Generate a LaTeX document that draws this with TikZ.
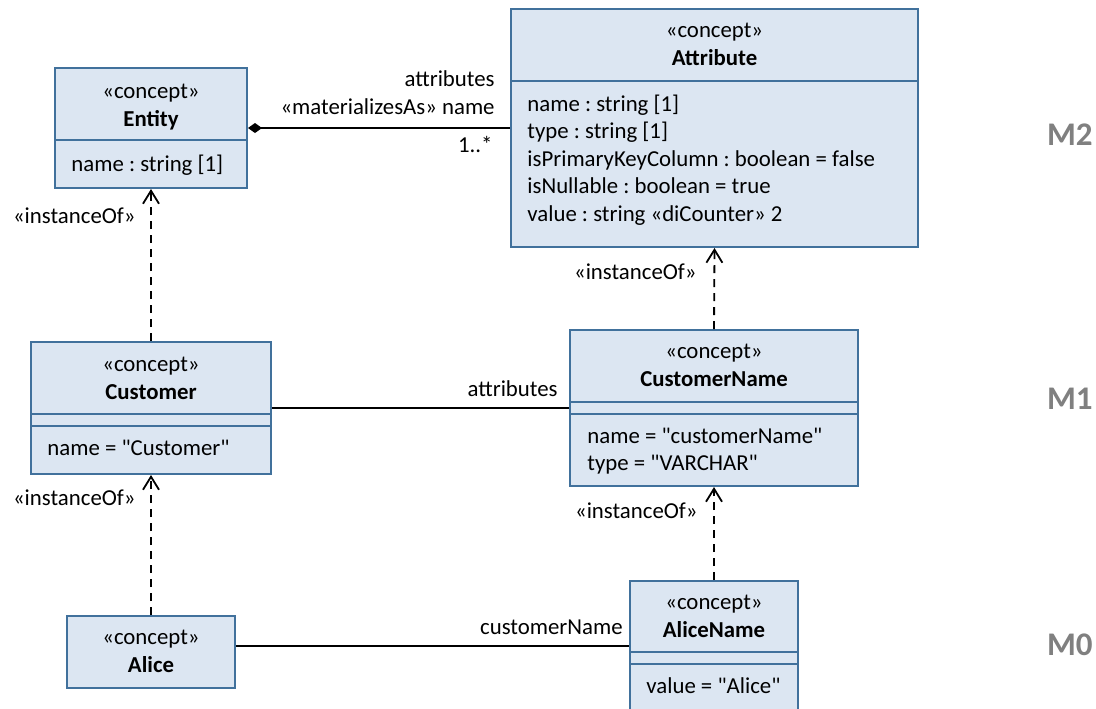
\documentclass[tikz,border=0pt]{standalone}
\usepackage{fontspec}
\setmainfont{Carlito}[Ligatures=TeXOff]
\usetikzlibrary{arrows.meta,fit}

\definecolor{boxfill}{HTML}{DCE6F2}
\definecolor{boxline}{HTML}{41719C}
\definecolor{levelgray}{HTML}{808080}

\begin{document}
\frenchspacing
\begin{tikzpicture}[x=0.5pt, y=-0.5pt,
  every node/.style={font=\fontsize{11.4}{13.9}\selectfont, inner sep=0pt},
  concept/.style={draw=boxline, fill=boxfill, line width=1pt},
  divider/.style={draw=boxline, line width=1pt},
  stereo/.style={anchor=base},
  classname/.style={anchor=base, font=\fontsize{11.4}{13.9}\selectfont\bfseries},
  member/.style={anchor=base west},
  rolelabel/.style={anchor=base east},
  assoc/.style={line width=0.9pt},
  instance/.style={line width=0.9pt, dash pattern=on 4pt off 3pt,
    -{Straight Barb[length=6.5pt,width=8pt]}},
  metalevel/.style={anchor=base east, text=levelgray,
    font=\fontsize{16.5}{20}\selectfont\bfseries}]

  \useasboundingbox (0,0) rectangle (1096,708);

  % M2
  \node [concept, fit={(55,68) (247,188)}] (entity) {};
  \draw [divider] (55,140) -- (247,140);
  \node [stereo] (entityStereo) at (151,98) {«concept»};
  \node [classname] (entityTitle) at (151,126) {Entity};
  \node [member] (entityAttr) at (71,171) {name : string [1]};

  \node [concept, fit={(511,9) (918,247)}] (attribute) {};
  \draw [divider] (511,81) -- (918,81);
  \node [stereo] (attributeStereo) at (714.5,37) {«concept»};
  \node [classname] (attributeTitle) at (714.5,65) {Attribute};
  \node [member] (attributeAttr1) at (527,111) {name : string [1]};
  \node [member] (attributeAttr2) at (527,138) {type : string [1]};
  \node [member] (attributeAttr3) at (527,166) {isPrimaryKeyColumn : boolean = false};
  \node [member] (attributeAttr4) at (527,193) {isNullable : boolean = true};
  \node [member] (attributeAttr5) at (527,221) {value : string «diCounter» 2};

  % M1
  \node [concept, fit={(31,342) (271,474)}] (customer) {};
  \draw [divider] (31,414) -- (271,414);
  \draw [divider] (31,426) -- (271,426);
  \node [stereo] (customerStereo) at (151,371) {«concept»};
  \node [classname] (customerTitle) at (151,399) {Customer};
  \node [member] (customerSlot) at (47,455) {name = "Customer"};

  \node [concept, fit={(570,330) (858,486)}] (customerName) {};
  \draw [divider] (570,402) -- (858,402);
  \draw [divider] (570,414) -- (858,414);
  \node [stereo] (customerNameStereo) at (714,358) {«concept»};
  \node [classname] (customerNameTitle) at (714,386) {CustomerName};
  \node [member] (customerNameSlot1) at (587,443) {name = "customerName"};
  \node [member] (customerNameSlot2) at (587,470) {type = "VARCHAR"};

  % M0
  \node [concept, fit={(67,616) (235,688)}] (alice) {};
  \node [stereo] (aliceStereo) at (151,644) {«concept»};
  \node [classname] (aliceTitle) at (151,672) {Alice};

  \node [concept, fit={(630,581) (798,711)}] (aliceName) {};
  \draw [divider] (630,652) -- (798,652);
  \draw [divider] (630,664) -- (798,664);
  \node [stereo] (aliceNameStereo) at (714,609) {«concept»};
  \node [classname] (aliceNameTitle) at (714,637) {AliceName};
  \node [member] (aliceNameSlot) at (646,693) {value = "Alice"};

  % links
  \draw [assoc, {Diamond[length=7pt,width=5pt]}-] (entity) -- (attribute);
  \node [rolelabel] (attrRole) at (495,86) {attributes};
  \node [rolelabel] (attrName) at (495,114) {«materializesAs» name};
  \node [rolelabel] (attrMult) at (493,152) {1..*};

  \draw [assoc] (customer.east) -- (customer.east -| customerName.west);
  \node [rolelabel] (customerRole) at (558,396) {attributes};

  \draw [assoc] (aliceName.west -| alice.east) -- (aliceName.west);
  \node [rolelabel] (aliceRole) at (623,634) {customerName};

  \draw [instance] (customer.north) -- (entity.south);
  \draw [instance] (alice.north) -- (customer.south);
  \draw [instance] (customerName.north) -- (attribute.south);
  \draw [instance] (aliceName.north) -- (customerName.south);
  \node [rolelabel] (instEntity) at (136,223) {«instanceOf»};
  \node [rolelabel] (instCustomer) at (136,505) {«instanceOf»};
  \node [rolelabel] (instAttribute) at (697,279) {«instanceOf»};
  \node [rolelabel] (instCustomerName) at (698,518) {«instanceOf»};

  % levels
  \node [metalevel] (levelM2) at (1093,145) {M2};
  \node [metalevel] (levelM1) at (1093,409) {M1};
  \node [metalevel] (levelM0) at (1093,655) {M0};

\end{tikzpicture}
\end{document}
